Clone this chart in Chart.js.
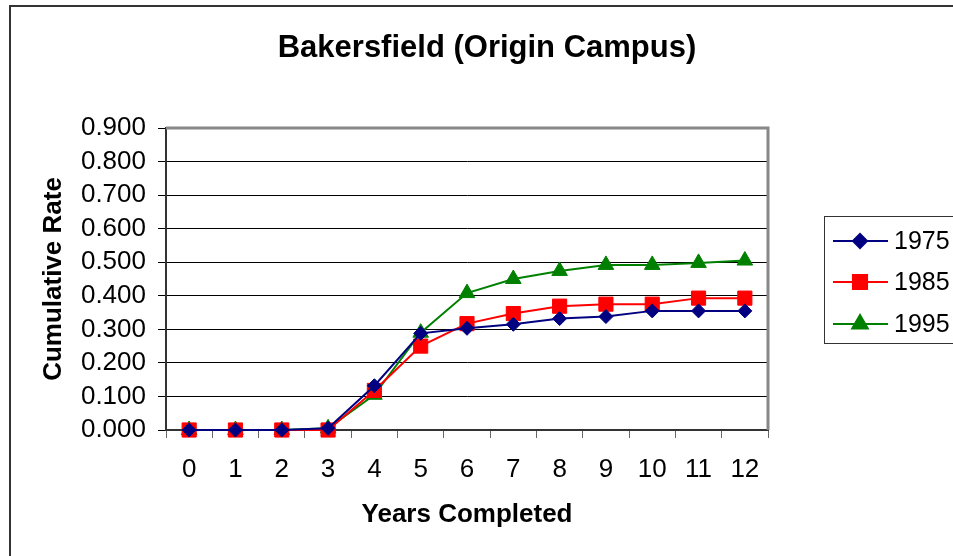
<!DOCTYPE html>
<html>
<head>
  <script src="https://cdn.jsdelivr.net/npm/chart.js@4"></script>
</head>
<body style="margin:0;background:#fff">
<div id="outer" style="width:953px;height:556px">
  <canvas id="myChart" width="953" height="556"></canvas>
</div>

<script>
// chart values
var years = ["0","1","2","3","4","5","6","7","8","9","10","11","12"]
var yTicks = [0, 0.1, 0.2, 0.3, 0.4, 0.5, 0.6, 0.7, 0.8, 0.9]
var cohorts = ["1975", "1985", "1995"]
var rate1975 = [0, 0, 0, 0.005, 0.132, 0.288, 0.303, 0.315, 0.332, 0.338, 0.355, 0.355, 0.355]
var rate1985 = [0, 0, 0, 0.000, 0.118, 0.250, 0.317, 0.347, 0.369, 0.375, 0.375, 0.393, 0.393]
var rate1995 = [0, 0, 0, 0.005, 0.105, 0.290, 0.408, 0.450, 0.474, 0.492, 0.492, 0.498, 0.505]

var colors = ["#000080", "#ff0000", "#008000"]
var styles = ["rectRot", "rect", "triangle"]
var radii = [7, 10, 9]
var FONT = "'Liberation Sans', Arial, sans-serif"

// title, frame, plot border and legend box
var decor = {
  id: 'decor',
  beforeDraw: function (chart) {
    var ctx = chart.ctx
    ctx.save()
    ctx.fillStyle = '#fff'
    ctx.fillRect(0, 0, chart.width, chart.height)
    ctx.strokeStyle = '#333'
    ctx.lineWidth = 2
    ctx.beginPath()
    ctx.moveTo(10, chart.height + 2)
    ctx.lineTo(10, 6)
    ctx.lineTo(chart.width + 2, 6)
    ctx.stroke()
    ctx.restore()
  },
  beforeDatasetsDraw: function (chart) {
    var ctx = chart.ctx
    var a = chart.chartArea
    ctx.save()
    ctx.strokeStyle = '#888'
    ctx.lineWidth = 3
    ctx.beginPath()
    ctx.moveTo(a.left, a.top)
    ctx.lineTo(a.right, a.top)
    ctx.lineTo(a.right, a.bottom)
    ctx.stroke()
    ctx.restore()
  },
  afterDraw: function (chart) {
    var ctx = chart.ctx
    ctx.save()
    ctx.fillStyle = '#000'
    ctx.textAlign = 'center'
    ctx.textBaseline = 'middle'
    ctx.font = 'bold 31px ' + FONT
    ctx.fillText('Bakersfield (Origin Campus)', 487, 48)

    // legend
    ctx.strokeStyle = '#333'
    ctx.lineWidth = 1
    ctx.strokeRect(824.5, 216.5, 140, 127)
    var rows = [241, 282, 324]
    ctx.font = '25px ' + FONT
    ctx.textAlign = 'left'
    for (var i = 0; i < cohorts.length; i++) {
      ctx.strokeStyle = colors[i]
      ctx.lineWidth = 2
      ctx.beginPath()
      ctx.moveTo(833, rows[i])
      ctx.lineTo(888, rows[i])
      ctx.stroke()
      Chart.helpers.drawPoint(ctx, {pointStyle: styles[i], radius: radii[i], borderWidth: 1}, 860, rows[i])
      ctx.fillStyle = colors[i]
      ctx.fill()
      ctx.fillStyle = '#000'
      ctx.fillText(cohorts[i], 894, rows[i] + 1)
    }
    ctx.restore()
  }
}

var series = [rate1975, rate1985, rate1995]
var datasets = []
for (var i = 0; i < series.length; i++) {
  datasets.push({
    label: cohorts[i],
    data: series[i],
    borderColor: colors[i],
    backgroundColor: colors[i],
    borderWidth: 2,
    pointStyle: styles[i],
    pointRadius: radii[i],
    pointBorderWidth: 1,
    tension: 0,
    clip: false
  })
}

var ctx = document.getElementById("myChart").getContext('2d')
var myChart = new Chart(ctx, {
  type: 'line',
  data: {labels: years, datasets: datasets},
  plugins: [decor],
  options: {
    responsive: false,
    animation: false,
    layout: {padding: {left: 0, right: 185, top: 128, bottom: 0}},
    plugins: {
      legend: {display: false},
      title: {display: false},
      tooltip: {enabled: false}
    },
    scales: {
      x: {
        type: 'category',
        offset: true,
        afterFit: function (scale) { scale.height = 126 },
        grid: {offset: true, drawOnChartArea: false, tickLength: 8, color: '#666', lineWidth: 1},
        border: {color: '#333', width: 2},
        ticks: {color: '#000', font: {family: FONT, size: 26}, padding: 16, maxRotation: 0, autoSkip: false},
        title: {display: true, text: 'Years Completed', color: '#000',
          font: {family: FONT, size: 26, weight: 'bold'}, padding: {top: 0, bottom: 26}}
      },
      y: {
        min: 0,
        max: 0.9,
        afterFit: function (scale) { scale.width = 166 },
        afterBuildTicks: function (scale) {
          scale.ticks = yTicks.map(function (v) { return {value: v} })
        },
        grid: {color: '#000', lineWidth: 1, tickLength: 8},
        border: {color: '#333', width: 2},
        ticks: {color: '#000', font: {family: FONT, size: 26}, padding: 12, autoSkip: false,
          callback: function (v) { return Number(v).toFixed(3) }},
        title: {display: true, text: 'Cumulative Rate', color: '#000',
          font: {family: FONT, size: 26, weight: 'bold'}, padding: {top: 38, bottom: 0}}
      }
    }
  }
})
</script>
</body>
</html>
